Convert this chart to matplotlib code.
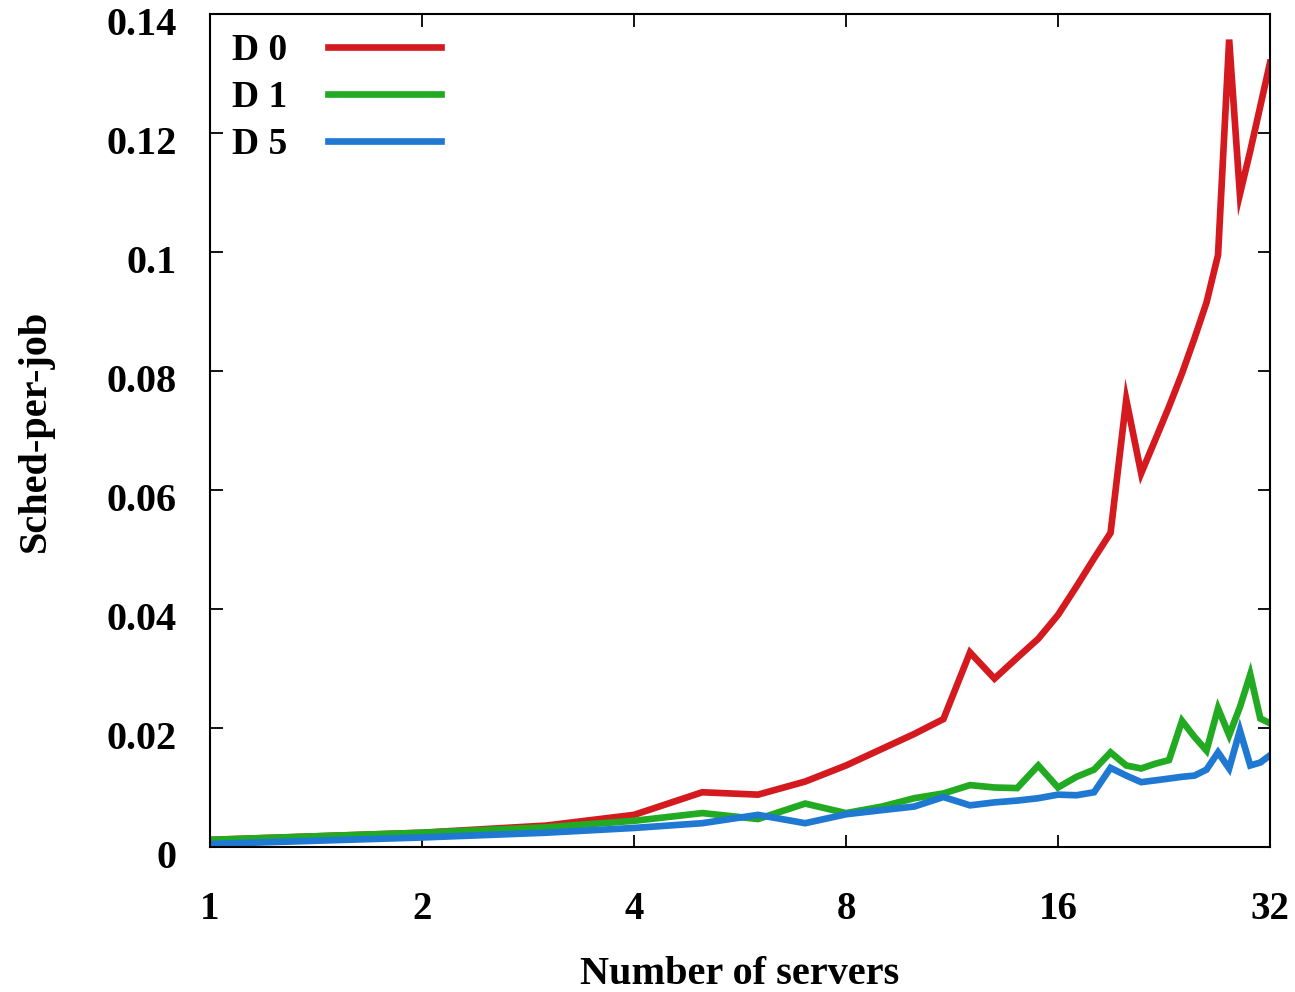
import matplotlib
matplotlib.use("Agg")
import matplotlib.pyplot as plt
import matplotlib.transforms as mtransforms
from matplotlib.ticker import FixedLocator, FixedFormatter, FuncFormatter, NullLocator

servers = list(range(1, 33))
d0 = [0.0012, 0.0024, 0.0036, 0.0054, 0.0092, 0.0088, 0.0110, 0.0137,
      0.0165, 0.0190, 0.0215, 0.0327, 0.0283, 0.0318, 0.0350, 0.0390,
      0.0438, 0.0485, 0.0528, 0.0752, 0.0628, 0.0685, 0.0740, 0.0796,
      0.0855, 0.0915, 0.0995, 0.1357, 0.1097, 0.1170, 0.1245, 0.1318]
d1 = [0.0012, 0.0024, 0.0033, 0.0044, 0.0057, 0.0047, 0.0073, 0.0057,
      0.0068, 0.0082, 0.0090, 0.0104, 0.0100, 0.0099, 0.0137, 0.0100,
      0.0118, 0.0130, 0.0159, 0.0137, 0.0132, 0.0140, 0.0146, 0.0212,
      0.0185, 0.0162, 0.0233, 0.0188, 0.0235, 0.0290, 0.0216, 0.0208]
d5 = [0.0005, 0.0016, 0.0024, 0.0032, 0.0040, 0.0054, 0.0040, 0.0055,
      0.0062, 0.0068, 0.0084, 0.0070, 0.0075, 0.0078, 0.0082, 0.0088,
      0.0087, 0.0092, 0.0133, 0.0120, 0.0109, 0.0112, 0.0115, 0.0118,
      0.0120, 0.0130, 0.0159, 0.0132, 0.0196, 0.0137, 0.0142, 0.0154]

series_labels = ["D 0", "D 1", "D 5"]
series_colors = ["#d41a1f", "#22aa22", "#1f78d1"]
x_ticks = [1, 2, 4, 8, 16, 32]
x_ticklabels = ["1", "2", "4", "8", "16", "32"]
y_ticks = [0, 0.02, 0.04, 0.06, 0.08, 0.1, 0.12, 0.14]

plt.rcParams['font.family'] = ['Liberation Serif', 'DejaVu Serif']
plt.rcParams['font.weight'] = 'bold'

fig = plt.figure(figsize=(12.95, 9.92), dpi=100)
ax = fig.add_axes([210/1295, 145/992, 1060/1295, 833/992])

for ys, lab, col in zip([d0, d1, d5], series_labels, series_colors):
    ax.plot(servers, ys, color=col, lw=4.8, label=lab, solid_joinstyle='miter')

ax.set_xscale('log', base=2)
ax.set_xlim(1, 32)
ax.set_ylim(0, 0.14)
ax.xaxis.set_major_locator(FixedLocator(x_ticks))
ax.xaxis.set_major_formatter(FixedFormatter(x_ticklabels))
ax.xaxis.set_minor_locator(NullLocator())
ax.yaxis.set_major_locator(FixedLocator(y_ticks))
ax.yaxis.set_major_formatter(FuncFormatter(lambda v, p: "%g" % v))

ax.tick_params(axis='both', which='major', direction='in', length=9, width=1.3,
               top=True, right=True)
ax.tick_params(axis='x', pad=32, labelsize=28)
ax.tick_params(axis='y', pad=24, labelsize=29)
for sp in ax.spines.values():
    sp.set_linewidth(1.5)

ax.set_xlabel("Number of servers", fontsize=29, fontweight='bold', labelpad=20)
ax.set_ylabel("Sched-per-job", fontsize=29, fontweight='bold', labelpad=38)

fig.canvas.draw()
offset = mtransforms.ScaledTranslation(0, -7/100, fig.dpi_scale_trans)
for lbl in ax.get_yticklabels():
    lbl.set_fontweight('bold')
    lbl.set_transform(lbl.get_transform() + offset)
for lbl in ax.get_xticklabels():
    lbl.set_fontweight('bold')

leg = ax.legend(loc='upper left', bbox_to_anchor=(0.003, 1.0), markerfirst=False,
                frameon=False, fontsize=27, handlelength=3.0, handletextpad=1.1,
                labelspacing=0.32, borderaxespad=0.1)
for t in leg.get_texts():
    t.set_fontweight('bold')

fig.savefig("out.png", dpi=100)
